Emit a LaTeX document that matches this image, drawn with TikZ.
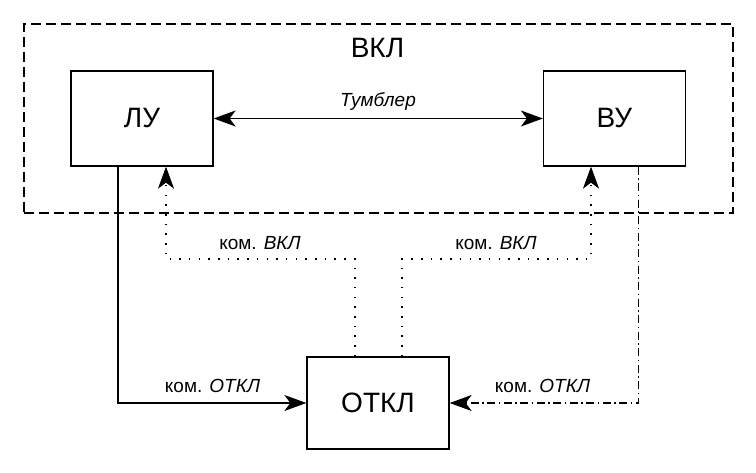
\documentclass[tikz,border=0pt]{standalone}
\usepackage{fontspec}
\setmainfont{Liberation Sans}
\usetikzlibrary{arrows.meta}

\begin{document}
\begin{tikzpicture}[x=1pt, y=-1pt, line width=1.3pt,
  >={Stealth[length=22pt, width=16pt, inset=6pt]},
  unit/.style={draw, rectangle, minimum width=142pt, minimum height=95pt, inner sep=0pt, font=\fontsize{28}{32}\selectfont},
  frame/.style={draw, dash pattern=on 10pt off 5pt, minimum width=709pt, minimum height=189pt, inner sep=0pt},
  dotline/.style={dash pattern=on 1.5pt off 8.2pt},
  dashdotline/.style={dash pattern=on 8pt off 3.5pt on 1.5pt off 3.5pt},
  lbl/.style={anchor=base, inner sep=0pt, font=\fontsize{19}{22}\selectfont}]
\useasboundingbox (0,0) rectangle (756,473);

\node[frame](zone) at (378.5,118.5) {};
\node[lbl, font=\fontsize{28}{32}\selectfont](title) at (377.5,58) {ВКЛ};

\node[unit](lu) at (142,118.5) {ЛУ};
\node[unit](vu) at (614.5,118.5) {ВУ};
\node[unit, minimum height=92pt](otkl) at (378,403) {ОТКЛ};

\coordinate(k1) at (166,259);
\coordinate(k2) at (591,259);

\draw[<->] (lu) -- (vu);
\node[lbl](tumb) at (378,107) {\textit{Тумблер}};

\draw[->] ([xshift=-24pt]lu.south) |- (otkl.west);
\draw[dashdotline, ->] ([xshift=24pt]vu.south) |- (otkl.east);
\draw[dotline, ->] ([xshift=-23pt]otkl.north) |- (k1) -- (k1 |- lu.south);
\draw[dotline, ->] ([xshift=24pt]otkl.north) |- (k2) -- (k2 |- vu.south);

\node[lbl](on1) at (260,250) {ком. \textit{ВКЛ}};
\node[lbl](on2) at (496,250) {ком. \textit{ВКЛ}};
\node[lbl](off1) at (212.5,392) {ком. \textit{ОТКЛ}};
\node[lbl](off2) at (542.5,392) {ком. \textit{ОТКЛ}};
\end{tikzpicture}
\end{document}
